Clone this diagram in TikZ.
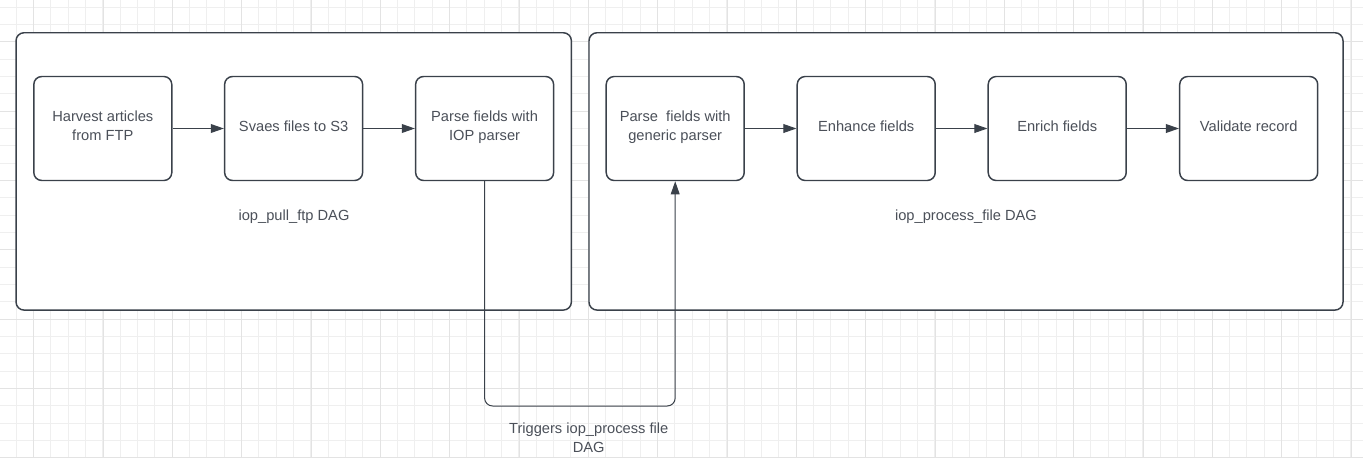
\documentclass[tikz,border=0pt]{standalone}
\usepackage{fontspec}
\setmainfont{Liberation Sans}
\usetikzlibrary{arrows.meta}
\definecolor{lineGray}{HTML}{3A414A}
\definecolor{textGray}{HTML}{4B5059}
\definecolor{gridMinor}{HTML}{EFEFEF}
\definecolor{gridMajor}{HTML}{E3E3E3}
\newcommand{\dagTask}[3]{\node [task] (#1) at (#2,128.5) {#3};}
\tikzset{
  task/.style={draw=lineGray, fill=white, line width=1.1pt, rounded corners=6pt,
      minimum width=103.5pt, minimum height=78pt, inner sep=0pt, text depth=4pt,
      align=center, text=textGray, font=\fontsize{11}{14}\selectfont},
  dag/.style={draw=lineGray, fill=white, line width=1.1pt, rounded corners=6pt,
      minimum height=208pt, inner sep=0pt},
  dagLabel/.style={align=center, text=textGray, font=\fontsize{11}{14}\selectfont},
  flow/.style={->, draw=lineGray, line width=0.75pt}
}

\begin{document}
\begin{tikzpicture}[x=0.75pt,y=-0.75pt,line join=round,>={Triangle[length=9.8pt,width=6.6pt]}]
  \useasboundingbox (0,0) rectangle (1363,458);
  % grid
  \foreach \i in {0,...,80} {
      \draw [gridMinor, line width=0.75pt] ({-1+17.333*\i},0) -- ++(0,458);
    }
  \foreach \j in {0,...,28} {
      \draw [gridMinor, line width=0.75pt] (0,{-10.33+17.333*\j}) -- ++(1363,0);
    }
  \foreach \i in {0,...,19} {
      \draw [gridMajor, line width=0.75pt] ({33.67+69.333*\i},0) -- ++(0,458);
    }
  \foreach \j in {0,...,6} {
      \draw [gridMajor, line width=0.75pt] (0,{41.67+69.333*\j}) -- ++(1363,0);
    }

  % the two DAGs
  \node [dag, minimum width=416.5pt] (pullDag) at (293.7,171.4) {};
  \node [dag, minimum width=565.5pt] (processDag) at (966,171.4) {};
  \node [dagLabel] (pullLabel) at (294,216.7) {iop\_pull\_ftp DAG};
  \node [dagLabel] (processLabel) at (966,216.7) {iop\_process\_file DAG};

  \dagTask{harvest}{102.8}{Harvest articles\\from FTP}
  \dagTask{saveFiles}{293.6}{Svaes files to S3}
  \dagTask{iopParse}{484.6}{Parse fields with\\IOP parser}
  \dagTask{genericParse}{675.2}{Parse~ fields with\\generic parser}
  \dagTask{enhance}{866.2}{Enhance fields}
  \dagTask{enrich}{1057.2}{Enrich fields}
  \dagTask{validate}{1248.7}{Validate record}

  \draw [flow] (harvest) -- (saveFiles);
  \draw [flow] (saveFiles) -- (iopParse);
  \draw [flow] (genericParse) -- (enhance);
  \draw [flow] (enhance) -- (enrich);
  \draw [flow] (enrich) -- (validate);

  % trigger between the DAGs
  \coordinate (turn) at (0,406);
  \draw [flow, rounded corners=6pt] (iopParse.south) -- (iopParse.south |- turn)
    -- (genericParse.south |- turn) -- (genericParse.south);
  \node [dagLabel] (trigger) at (588.7,437.5) {Triggers iop\_process file\\DAG};
\end{tikzpicture}
\end{document}
